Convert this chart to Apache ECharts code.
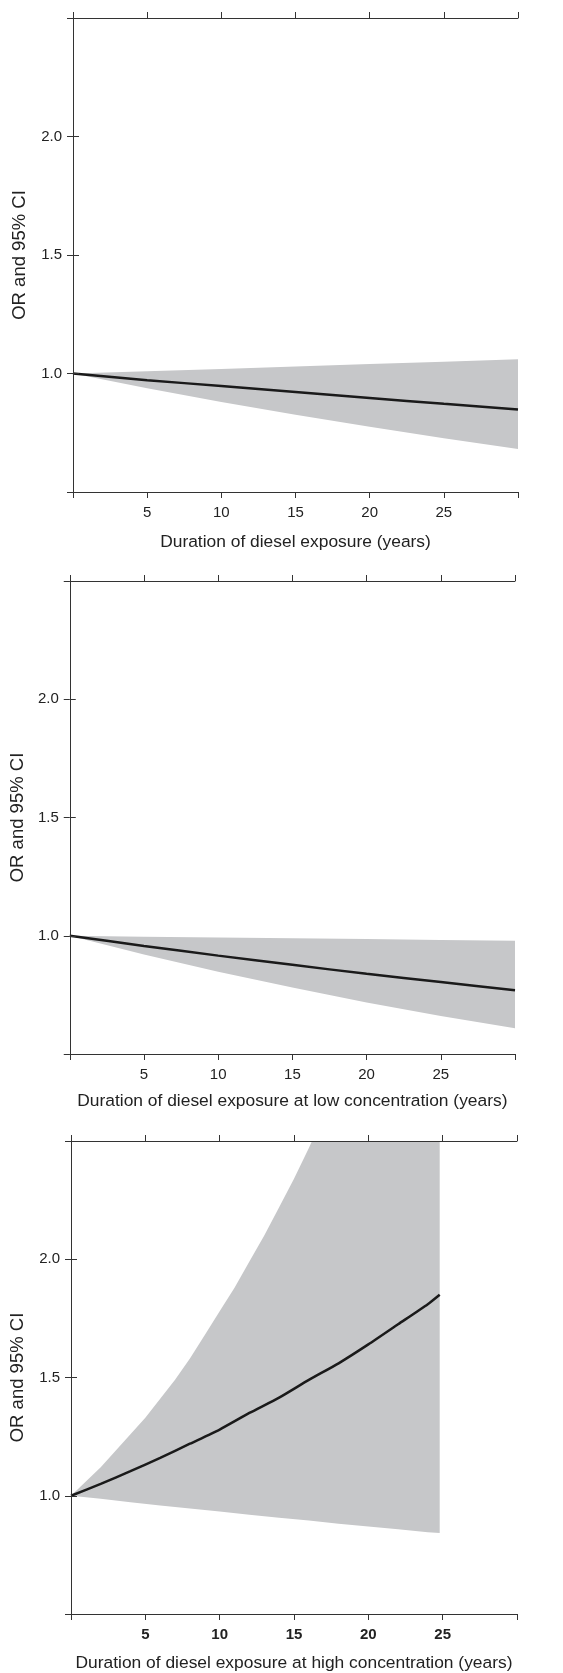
<!DOCTYPE html>
<html>
<head>
<meta charset="utf-8">
<script src="https://cdn.jsdelivr.net/npm/echarts@6/dist/echarts.min.js"></script>
<style>
html,body{margin:0;padding:0;background:#fff;}
#chart{width:563px;height:1673px;}
</style>
</head>
<body>
<div id="chart"></div>
<script>
// ---- Data ----
const yearsA = [0, 5, 10, 15, 20, 25, 30];
// Panel 1: duration of diesel exposure
const p1OR = [1.0, 0.972, 0.947, 0.922, 0.897, 0.872, 0.848];
const p1Lo = [1.0, 0.938, 0.880, 0.826, 0.775, 0.727, 0.681];
const p1Hi = [1.0, 1.010, 1.019, 1.030, 1.040, 1.050, 1.060];
// Panel 2: low concentration
const p2OR = [1.0, 0.957, 0.916, 0.877, 0.839, 0.804, 0.770];
const p2Lo = [1.0, 0.921, 0.848, 0.781, 0.718, 0.661, 0.609];
const p2Hi = [1.0, 0.996, 0.993, 0.989, 0.986, 0.982, 0.979];
// Panel 3: high concentration
const yearsB = [0, 2, 4, 6, 8, 10, 12, 14, 16, 18, 20, 22, 24, 24.8];
const p3OR = [1.0, 1.05, 1.104, 1.16, 1.22, 1.28, 1.35, 1.415, 1.49, 1.56, 1.64, 1.725, 1.81, 1.85];
const p3Lo = [1.0, 0.987, 0.973, 0.959, 0.946, 0.933, 0.920, 0.907, 0.895, 0.882, 0.870, 0.858, 0.846, 0.842];
// upper CI of panel 3 read year by year until it leaves the plot
const yearsB_hi = [0, 1, 2, 3, 4, 5, 6, 7, 8, 9, 10, 11, 12, 13, 14, 15, 16, 17, 24.8];
const p3Hi = [1.0, 1.06, 1.12, 1.19, 1.26, 1.33, 1.41, 1.49, 1.58, 1.68, 1.78, 1.88, 1.99, 2.10, 2.22, 2.34, 2.47, 2.61, 4.05];

const xTickLabels = ['5', '10', '15', '20', '25'];
const yTickLabels = ['1.0', '1.5', '2.0'];
const yName = 'OR and 95% CI';
const xNames = [
  'Duration of diesel exposure (years)',
  'Duration of diesel exposure at low concentration (years)',
  'Duration of diesel exposure at high concentration (years)'
];

// ---- Layout / style ----
const FONT = '"Liberation Sans", Arial, sans-serif';
const AXIS = '#333';
const TXT = '#222';
const BAND = '#c6c7c9';
const grids = [
  {left: 73, right: 45, top: 18, height: 474},
  {left: 69, right: 48, top: 581, height: 473},
  {left: 70, right: 46, top: 1141, height: 473}
];
const nameGapsX = [42, 39, 41];
const nameGapsY = [44, 41, 44];

const panels = [
  {xs: yearsA, or: p1OR, lo: p1Lo, hiXs: yearsA, hi: p1Hi, bold: false},
  {xs: yearsA, or: p2OR, lo: p2Lo, hiXs: yearsA, hi: p2Hi, bold: false},
  {xs: yearsB, or: p3OR, lo: p3Lo, hiXs: yearsB_hi, hi: p3Hi, bold: true}
];

const axisLine = {show: true, lineStyle: {color: AXIS, width: 1}};
const axisTick = {show: true, inside: false, length: 6, lineStyle: {color: AXIS, width: 1}};

const option = {
  animation: false,
  backgroundColor: '#fff',
  grid: grids.map(g => Object.assign({containLabel: false}, g)),
  xAxis: [], yAxis: [], series: []
};

function bandRenderer(p) {
  return function (params, api) {
    if (params.dataIndex !== 0) return null;
    const pts = [];
    for (let k = 0; k < p.hiXs.length; k++) pts.push(api.coord([p.hiXs[k], p.hi[k]]));
    for (let k = p.xs.length - 1; k >= 0; k--) pts.push(api.coord([p.xs[k], p.lo[k]]));
    const cs = params.coordSys;
    return {
      type: 'polygon',
      shape: {points: pts},
      style: {fill: BAND, stroke: null},
      clipPath: {type: 'rect', shape: {x: cs.x, y: cs.y, width: cs.width, height: cs.height}}
    };
  };
}

panels.forEach((p, i) => {
  const xb = option.xAxis.length;
  option.xAxis.push({
    type: 'value', gridIndex: i, position: 'bottom', min: 0, max: 30, interval: 5, z: 10,
    axisLine, axisTick, splitLine: {show: false},
    axisLabel: {
      show: true, margin: 13, color: TXT, fontFamily: FONT, fontSize: 15,
      fontWeight: p.bold ? 'bold' : 'normal',
      formatter: v => { const s = String(v); return xTickLabels.indexOf(s) >= 0 ? s : ''; }
    },
    name: xNames[i], nameLocation: 'middle', nameGap: nameGapsX[i],
    nameTextStyle: {color: TXT, fontFamily: FONT, fontSize: 17.4}
  });
  option.xAxis.push({
    type: 'value', gridIndex: i, position: 'top', min: 0, max: 30, interval: 5, z: 10,
    axisLine, axisTick, splitLine: {show: false}, axisLabel: {show: false}
  });
  const yl = option.yAxis.length;
  option.yAxis.push({
    type: 'value', gridIndex: i, position: 'left', min: 0.5, max: 2.5, interval: 0.5, z: 10,
    axisLine, axisTick, splitLine: {show: false},
    axisLabel: {
      show: true, margin: 11, color: TXT, fontFamily: FONT, fontSize: 15,
      formatter: v => { const s = v.toFixed(1); return yTickLabels.indexOf(s) >= 0 ? s : ''; }
    },
    name: yName, nameLocation: 'middle', nameGap: nameGapsY[i], nameRotate: 90,
    nameTextStyle: {color: TXT, fontFamily: FONT, fontSize: 18.5}
  });
  option.yAxis.push({
    type: 'value', gridIndex: i, position: 'right', min: 0.5, max: 2.5, interval: 0.5, z: 10,
    axisLine, axisTick, splitLine: {show: false}, axisLabel: {show: false}
  });
  // 95% CI band
  option.series.push({
    type: 'custom', xAxisIndex: xb, yAxisIndex: yl, z: 1,
    renderItem: bandRenderer(p),
    data: p.xs.map((x, k) => [x, p.lo[k], p.or[k]]),
    encode: {x: 0, y: [1, 2]}
  });
  // Odds ratio
  option.series.push({
    type: 'line', xAxisIndex: xb, yAxisIndex: yl, smooth: 0.2, symbol: 'none', z: 3,
    lineStyle: {width: 2.5, color: '#1a1a1a'}, clip: true,
    data: p.xs.map((x, k) => [x, p.or[k]])
  });
});

const chart = echarts.init(document.getElementById('chart'), null, {renderer: 'canvas'});
chart.setOption(option);
</script>
</body>
</html>
